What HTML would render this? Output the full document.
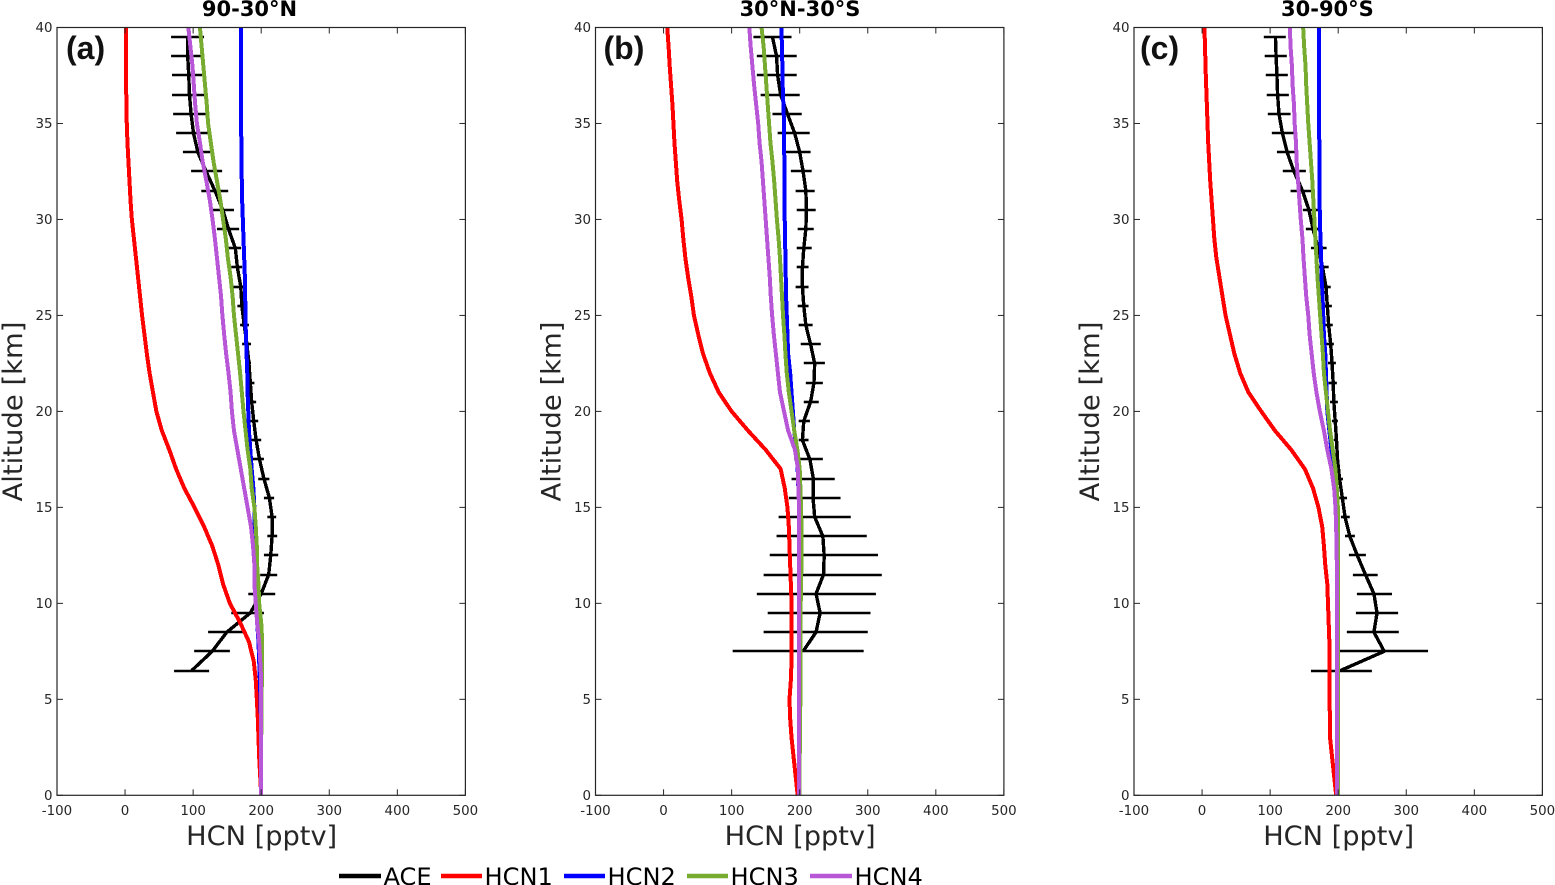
<!DOCTYPE html>
<html>
<head>
<meta charset="utf-8">
<title>HCN profiles</title>
<style>
html,body{margin:0;padding:0;background:#fff;}
svg{display:block;}
text{font-family:"DejaVu Sans","Liberation Sans",sans-serif;fill:#262626;}
</style>
</head>
<body>
<svg id="chart" xmlns="http://www.w3.org/2000/svg" width="1555" height="885" viewBox="0 0 1555 885"></svg>
<script>
const panelTitles = ["90-30°N", "30°N-30°S", "30-90°S"];
const panelLetters = ["(a)", "(b)", "(c)"];
const xTicks = [-100, 0, 100, 200, 300, 400, 500];
const yTicks = [0, 5, 10, 15, 20, 25, 30, 35, 40];
const seriesNames = ["HCN1", "HCN2", "HCN3", "HCN4"];
const legendNames = ["ACE", "HCN1", "HCN2", "HCN3", "HCN4"];

// Model altitude grid, km
const modelAltitudes = [40,39,38,37,36,35,34,33,32,31,30,29,28,27,26,25,24,23,22,21,20,19,18,17,16,15,14,13,12,11,10,9,8,7,6,5,4,3,2,1,0];
// ACE altitude grid, km
const aceAltitudes = [39.5,38.5,37.5,36.5,35.5,34.5,33.5,32.5,31.5,30.5,29.5,28.5,27.5,26.5,25.5,24.5,23.5,22.5,21.5,20.5,19.5,18.5,17.5,16.5,15.5,14.5,13.5,12.5,11.5,10.5,9.5,8.5,7.5,6.5];

// Panel (a)
const hcn1A = [1,1,1.2,1.5,2,2.5,3.5,5,6.5,8,10,13,16,19,22,25,28.5,32,36,41,46,54,65,75,87,102,116,128,137,144,154,169,182,189,192,193.6,195,196,197,198.5,200];
const hcn2A = [170,170,170,170.2,170.4,170.5,170.8,171,171.5,172,173,174,175,176,176.5,176.8,177.5,178.5,179.5,180,181,182,184,186,188.5,190,190.5,191,191,191,192,194,196,197,198,199,199.5,200,200,200,200];
const hcn3A = [110,112.5,115,117.5,120,122,126,130,135,140,144,148,151,155,158,160,163,166,169,171.5,174,177,180,184,186,190,192,193.5,194,196,197,200,201.5,201.5,201,200.5,200.5,200,200,200,200];
const hcn4A = [93,96,99,101,103,105.5,110,114,119.5,124.5,128.5,132,135,138,141,143,145.6,148.5,152,155,157,160,165,170,175,180,185,188,190,190,192,194,197,198.5,200,200,200,200,200,200,200];
const aceMeanA = [91.7,92,93.6,94.6,97,100.5,107,119,132,143.6,152,162,165,170,171.6,175,179,182,184,186,189,192.6,197.5,204,212,216,216,214,211,200,184,149.5,128,98];
const aceLowA = [67.6,67.6,69,69,70.6,75,85,97,112,128,135,151.5,156,159,165,169,172,179,179,180,184,185,187,195.6,204,209,209,204,198.5,181,156,122,101.5,72];
const aceHighA = [116,116,116,116,119,122,126.5,142.6,151.5,160,167.6,170.6,172,174,175,182,185,185,190,192.6,195.6,200,204,212,219,222,223.5,225,223.5,220.6,204,176.5,154,123.5];

// Panel (b)
const hcn1B = [5.4,7.4,9,11,13,14.5,16,18,20,23,26.5,29,32,36,40.7,44.6,51,58,68,81,100,124,150,172,178,182,184,185,186,187,188,188,188,188,187,185,186,188,191,194,197];
const hcn2B = [173,174,174.5,175,176,177,177,177.5,177.5,178,178,178.5,179,179.5,180,181,182,183,186,188,190,192,195,197,198,199,199,199.5,199.5,200,200,200,200,200,200,200,200,200,200,200,200];
const hcn3B = [144,147,149,151,153,155,157,160,162.5,164.5,166.5,169,171,172.5,174,175.5,177.5,179,181,184,188,192,196.6,200,201,202,202.5,202.5,202.5,202,201.5,201.5,201.5,201,201,201,200.5,200.5,200,200,200];
const hcn4B = [126,128,130.5,133,136,139,141,144,146,148,150,152,154,156,157.5,159.5,162,165,168,171,177,183,193,197.5,198,199,199,199,199,199,199,199,199,199,199,199,199,199,199,199,199];
const aceMeanB = [160,166,167.6,172,182,192.6,200,205,209,210,209,206,204,204,206,209,216,222,221,216,206,204,215,220,219.6,222,234,236,235,224,230,224,205];
const aceLowB = [132,137,137,142.6,160,167.6,179.4,187,194,195.6,197,195.6,195.6,194,197,198.5,201.5,206,209,206,198.5,198.5,192,188,184,169,166,156,147,137,153,147,101.5];
const aceHighB = [188,195.6,195.6,200,203,214.7,216,217.6,222,223.5,220.6,217.6,213,213,213,219,231,237,234,228,215,213,234,251.5,260,275,298.5,315,320.6,312,304,300,294];

// Panel (c)
const hcn1C = [3.4,4.4,5,6,7,8,9,10.5,12,14,16,18,21,25.5,30,34.5,41,47.5,56,68,87,107,131,151,163,171,176.5,179,181,184,185,186,187,187,187,187,188,188,191,194,197];
const hcn2C = [171.5,171.5,171.5,171.7,171.8,172,172.2,172.4,172.6,172.8,173,174,175,175.5,177,178,179,181,182,183,184,187,190,193,195,197,198,198,198,198,198,198,198,198,198,198,198,198,198,198,198];
const hcn3C = [148.5,150,152,153,154.5,156,158,160,162,163.5,165,166.5,168,169.5,171.5,173.5,175.5,177.5,179,182,185,188,192,196,198,199.5,200,200,200,200,200,200,200,200,200,200,200,200,200,200,200];
const hcn4C = [129,130,132,133,135,136,138,139,141,143,145,147.5,149,151,153,156,158,161,164,168,173,179,184,190,194,196,197,197.5,198,198,198,198,198,198,198,198,198,198,198,198,198];
const aceMeanC = [107.8,108.8,110,111,113,118,125,135,147.5,157,163,170.6,177,182,184,186,189,191,192.6,193.6,195.6,197.5,199,202,206,210,217,228,240,252.5,257,252.5,267.6,203.4];
const aceLowC = [90.7,92,93.6,95,96.6,102.5,110,118.6,130,148,152.5,160,165.7,173,179.4,180,182,185,186,188,190.7,193.6,196.6,198,201,204,210,215.7,221.6,227.5,226,212.7,202.5,160];
const aceHighC = [123,124.5,126,127.5,130,135,138,152.5,160,171.6,170.6,183,186,189,190.7,192,193.6,196.6,198,199.5,199.5,199.5,201,207,213,217,224.5,240.7,258,279,288,289,332,249.5];

const panelSeries = [[hcn1A, hcn2A, hcn3A, hcn4A], [hcn1B, hcn2B, hcn3B, hcn4B], [hcn1C, hcn2C, hcn3C, hcn4C]];
const panelMeans = [aceMeanA, aceMeanB, aceMeanC];
const panelLows = [aceLowA, aceLowB, aceLowC];
const panelHighs = [aceHighA, aceHighB, aceHighC];

// Layout and style
const plotLefts = [57, 595.5, 1134];
const plotWidth = 408.4;
const plotTop = 27.5;
const plotBottom = 795.3;
const titleCenters = [249.5, 800, 1327.4];
const letterOffsets = [9, 8, 6];
const seriesColors = ["#ff0000", "#0000ff", "#77ac30", "#b856d8"];
const inkColor = "#262626";
const NS = "http://www.w3.org/2000/svg";
const svg = document.getElementById("chart");

function xScale(panel, v) { return plotLefts[panel] + (v + 100) / 600 * plotWidth; }
function yScale(alt) { return plotBottom - alt / 40 * (plotBottom - plotTop); }
function make(tag, attrs, parent) {
  const el = document.createElementNS(NS, tag);
  for (const k in attrs) el.setAttribute(k, attrs[k]);
  parent.appendChild(el);
  return el;
}

function polyPoints(panel, values, alts) {
  return values.map((v, i) => xScale(panel, v).toFixed(2) + "," + yScale(alts[i]).toFixed(2)).join(" ");
}

plotLefts.forEach((left, p) => {
  const right = left + plotWidth;
  const g = make("g", {}, svg);
  
  

  // ACE mean profile
  const aceLine = make("polyline", {points: polyPoints(p, panelMeans[p], aceAltitudes), fill: "none", stroke: "#000", "stroke-width": 3.4, "stroke-linejoin": "round", "shape-rendering": "crispEdges"}, g);
  
  

  // ACE error bars
  panelMeans[p].forEach((m, i) => {
    const y = Math.round(yScale(aceAltitudes[i]));
    const bar = make("line", {x1: xScale(p, panelLows[p][i]), x2: xScale(p, panelHighs[p][i]), y1: y, y2: y, stroke: "#000", "stroke-width": 2.6}, g);
    
    
  });

  // Model lines
  panelSeries[p].forEach((vals, s) => {
    const line = make("polyline", {points: polyPoints(p, vals, modelAltitudes), fill: "none", stroke: seriesColors[s], "stroke-width": 4, "stroke-linejoin": "round", "shape-rendering": "crispEdges"}, g);
    
    
  });

  // Axes box
  const box = make("rect", {x: left, y: plotTop, width: plotWidth, height: plotBottom - plotTop, fill: "none", stroke: inkColor, "stroke-width": 1.2}, g);
  
  

  // X ticks
  xTicks.forEach(t => {
    const x = xScale(p, t);
    const tb = make("line", {x1: x, x2: x, y1: plotBottom, y2: plotBottom - 6, stroke: inkColor, "stroke-width": 1}, g);
    
    
    const tt = make("line", {x1: x, x2: x, y1: plotTop, y2: plotTop + 6, stroke: inkColor, "stroke-width": 1}, g);
    
    
    const lab = make("text", {x: x, y: 815, "text-anchor": "middle", "font-size": 13.4}, g);
    lab.textContent = t;
    
    
  });

  // Y ticks
  yTicks.forEach(t => {
    const y = yScale(t);
    const tl = make("line", {x1: left, x2: left + 6, y1: y, y2: y, stroke: inkColor, "stroke-width": 1}, g);
    
    
    const tr = make("line", {x1: right, x2: right - 6, y1: y, y2: y, stroke: inkColor, "stroke-width": 1}, g);
    
    
    const lab = make("text", {x: left - 4.5, y: y + 4.5, "text-anchor": "end", "font-size": 13.4}, g);
    lab.textContent = t;
    
    
  });

  // Title
  const title = make("text", {x: titleCenters[p], y: 16, "text-anchor": "middle", "font-size": 21, "font-weight": "bold"}, g);
  title.textContent = panelTitles[p];
  title.style.fill = "#000";
  
  

  // Panel letter
  const letter = make("text", {x: left + letterOffsets[p], y: 59, "font-size": 32, "font-weight": "bold"}, g);
  letter.textContent = panelLetters[p];
  letter.style.fontFamily = '"Liberation Sans", sans-serif';
  letter.style.fill = "#111";
  
  

  // Axis labels
  const xl = make("text", {x: left + plotWidth / 2 + 0.5, y: 845, "text-anchor": "middle", "font-size": 27, textLength: 151, lengthAdjust: "spacingAndGlyphs"}, g);
  xl.textContent = "HCN [pptv]";
  
  
  const yl = make("text", {x: 0, y: 0, "text-anchor": "middle", "font-size": 27, textLength: 180, lengthAdjust: "spacingAndGlyphs", transform: "translate(" + (left - 35) + ",411.5) rotate(-90)"}, g);
  yl.textContent = "Altitude [km]";
  
  
});

// Legend
const legendLineStarts = [339, 441, 564, 687, 810];
const legendLineEnds = [381, 482, 605, 728, 852];
const legendColors = ["#000000", "#ff0000", "#0000ff", "#77ac30", "#b856d8"];
const legend = make("g", {}, svg);


legendNames.forEach((name, i) => {
  const sw = make("line", {x1: legendLineStarts[i], x2: legendLineEnds[i], y1: 876, y2: 876, stroke: legendColors[i], "stroke-width": 4.6}, legend);
  
  
  const tx = make("text", {x: legendLineEnds[i] + 2.5, y: 885, "font-size": 24.1}, legend);
  tx.textContent = name;
  tx.style.fill = "#000";
  
  
});
</script>
</body>
</html>
